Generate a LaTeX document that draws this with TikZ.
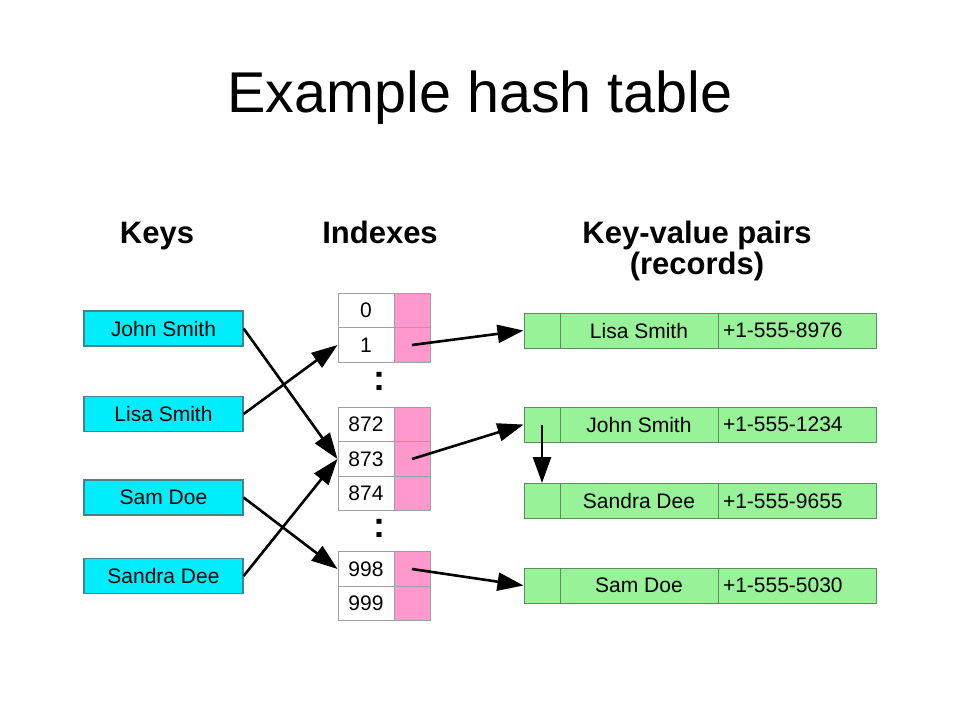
\documentclass[tikz,border=0pt]{standalone}
\usepackage{fontspec}
\setmainfont{Liberation Sans}
\usepackage{tikz}
\usetikzlibrary{arrows.meta,positioning}
\definecolor{keycyan}{RGB}{0,238,252}
\definecolor{keyedge}{RGB}{70,130,140}
\definecolor{ptrpink}{RGB}{255,152,204}
\definecolor{recgreen}{RGB}{152,242,152}
\definecolor{recedge}{RGB}{95,140,95}
\definecolor{idxedge}{RGB}{160,160,160}

\begin{document}
\begin{tikzpicture}
	[x=1pt, y=-1pt, inner sep=0pt,
	font=\fontsize{21}{24}\selectfont,
	title/.style	= {font=\fontsize{57.5}{60}\selectfont, anchor=base},
	header/.style	= {font=\fontsize{31}{34}\bfseries, anchor=base},
	keybox/.style	= {rectangle, draw=keyedge, line width=1.2pt, fill=keycyan, minimum width=159pt, minimum height=35pt},
	idxcell/.style	= {rectangle, draw=idxedge, line width=1pt, fill=white, minimum width=56pt, minimum height=34.5pt},
	ptrcell/.style	= {rectangle, draw=idxedge, line width=1pt, fill=ptrpink, minimum width=36pt, minimum height=34.5pt},
	nextcell/.style	= {rectangle, draw=recedge, line width=1pt, fill=recgreen, minimum width=36pt, minimum height=35pt},
	namecell/.style	= {rectangle, draw=recedge, line width=1pt, fill=recgreen, minimum width=158pt, minimum height=35pt},
	phonecell/.style	= {rectangle, draw=recedge, line width=1pt, fill=recgreen, minimum height=35pt, text width=148pt, inner xsep=5pt, align=left},
	dots/.style	= {font=\fontsize{36}{36}\bfseries},
	paths/.style	= {-{Triangle[length=26pt, width=18pt]}, line width=2.6pt}]
	
	\useasboundingbox (0,0) rectangle (960,720);
	
	\node at (480, 112)		[title]		(ttl)	{Example hash table};
	\node at (157, 243)		[header]	(hk)	{Keys};
	\node at (380, 243)		[header]	(hi)	{Indexes};
	\node at (697, 243)		[header]	(hr)	{Key-value pairs};
	\node at (697, 274)		[header]	(hr2)	{(records)};
	
	% keys
	\node at (163.5, 328.5)	[keybox]	(john)	{John Smith};
	\node at (163.5, 414)	[keybox]	(lisa)	{Lisa Smith};
	\node at (163.5, 497.5)	[keybox]	(sam)	{Sam Doe};
	\node at (163.5, 576)	[keybox]	(sandra)	{Sandra Dee};
	
	% indexes
	\node at (366, 310.5)	[idxcell]	(i0)	{0};
	\node at (366, 345)		[idxcell]	(i1)	{1};
	\node at (366, 424.5)	[idxcell]	(i872)	{872};
	\node at (366, 459)		[idxcell]	(i873)	{873};
	\node at (366, 493.5)	[idxcell]	(i874)	{874};
	\node at (366, 569)		[idxcell]	(i998)	{998};
	\node at (366, 603.5)	[idxcell]	(i999)	{999};
	
	\node at (412, 310.5)	[ptrcell]	(p0)	{};
	\node at (412, 345)		[ptrcell]	(p1)	{};
	\node at (412, 424.5)	[ptrcell]	(p872)	{};
	\node at (412, 459)		[ptrcell]	(p873)	{};
	\node at (412, 493.5)	[ptrcell]	(p874)	{};
	\node at (412, 569)		[ptrcell]	(p998)	{};
	\node at (412, 603.5)	[ptrcell]	(p999)	{};
	
	\node at (379, 381)		[dots]		(gap1)	{:};
	\node at (379, 528)		[dots]		(gap2)	{:};
	
	% records
	\node at (542, 330.5)	[nextcell]	(n1)	{};
	\node at (639, 330.5)	[namecell]	(r1)	{Lisa Smith};
	\node at (797, 330.5)	[phonecell]	(t1)	{+1-555-8976};
	
	\node at (542, 424.5)	[nextcell]	(n2)	{};
	\node at (639, 424.5)	[namecell]	(r2)	{John Smith};
	\node at (797, 424.5)	[phonecell]	(t2)	{+1-555-1234};
	
	\node at (542, 501)		[nextcell]	(n3)	{};
	\node at (639, 501)		[namecell]	(r3)	{Sandra Dee};
	\node at (797, 501)		[phonecell]	(t3)	{+1-555-9655};
	
	\node at (542, 585.5)	[nextcell]	(n4)	{};
	\node at (639, 585.5)	[namecell]	(r4)	{Sam Doe};
	\node at (797, 585.5)	[phonecell]	(t4)	{+1-555-5030};
	
	% hashing
	\draw [paths] (john.east)	-- (i873.west);
	\draw [paths] (lisa.east)	-- (i1.west);
	\draw [paths] (sam.east)	-- (i998.west);
	\draw [paths] (sandra.east)	-- (i873.west);
	
	% buckets
	\draw [paths] (p1.center)	-- (n1.west);
	\draw [paths] (p873.center)	-- (n2.west);
	\draw [paths] (p998.center)	-- (n4.west);
	\draw [paths] (n2.center)	-- (n3.north);
\end{tikzpicture}
\end{document}
